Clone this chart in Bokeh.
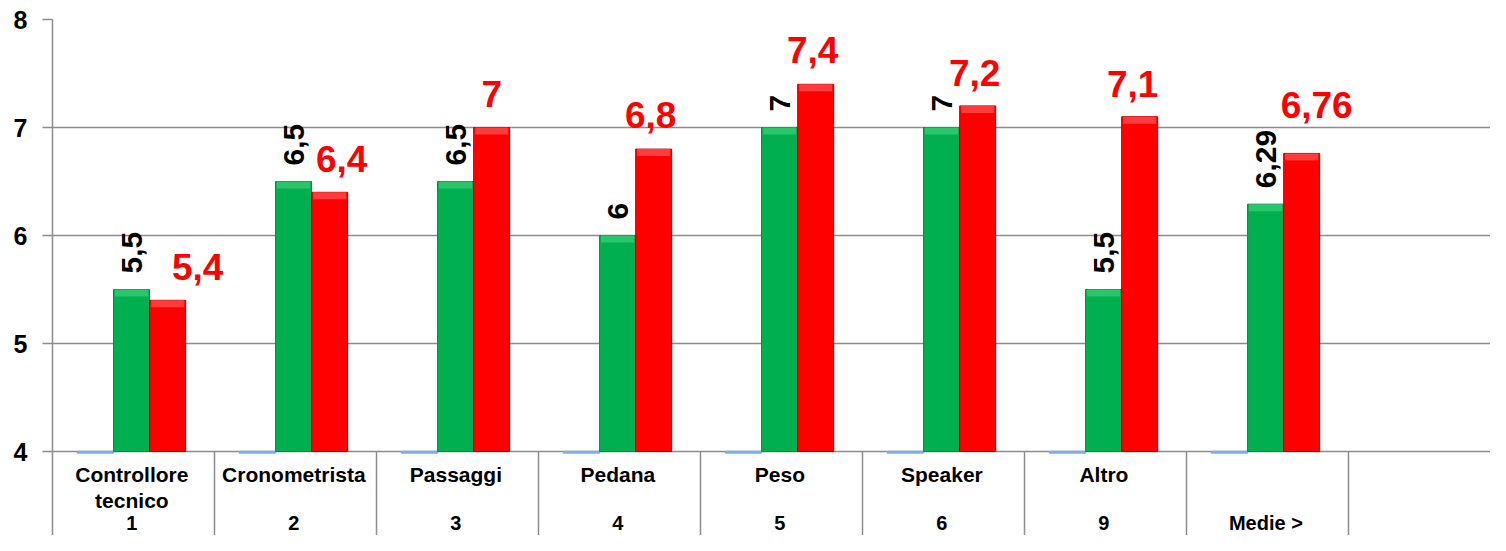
import math
from bokeh.plotting import figure
from bokeh.models import Range1d, FixedTicker, ColumnDataSource
from bokeh.core.properties import value
from bokeh.embed import file_html
from bokeh.resources import INLINE

# ---- data ----
names = ["Controllore\ntecnico", "Cronometrista", "Passaggi", "Pedana",
         "Peso", "Speaker", "Altro", ""]
codes = ["1", "2", "3", "4", "5", "6", "9", "Medie >"]
series_blue = [4, 4, 4, 4, 4, 4, 4, 4]
series_green = [5.5, 6.5, 6.5, 6.0, 7.0, 7.0, 5.5, 6.29]
series_red = [5.4, 6.4, 7.0, 6.8, 7.4, 7.2, 7.1, 6.76]
green_text = ["5,5", "6,5", "6,5", "6", "7", "7", "5,5", "6,29"]
red_text = ["5,4", "6,4", "7", "6,8", "7,4", "7,2", "7,1", "6,76"]
y_ticks = [4, 5, 6, 7, 8]
n_slots = 9  # last slot is empty

# label nudges (pixels) as placed in the original
red_dx = [30, 12, 0, -3, -3, -3, -7, 15]
red_dy = [20, 20, 20, 21, 21, 20, 19, 35]

# ---- layout ----
W, H = 1490, 535
LEFT, TOP = 52, 19
FW, FH = W - LEFT, H - TOP
SLOT_PX = 162.0
UNIT_PX = 108.0
PX_X = 1.0 / SLOT_PX
PX_Y = 1.0 / UNIT_PX
y_lo = 8 - FH / UNIT_PX

FONT = "Liberation Sans"
GRID = "#8c8c8c"

p = figure(width=W, height=H, output_backend="svg", toolbar_location=None,
           x_range=Range1d(0, FW / SLOT_PX), y_range=Range1d(y_lo, 8),
           min_border_left=LEFT, min_border_right=0, min_border_top=TOP,
           min_border_bottom=0)
p.outline_line_color = None
p.background_fill_color = "white"
p.border_fill_color = "white"
p.xaxis.visible = False
p.xgrid.visible = False
p.ygrid.ticker = FixedTicker(ticks=y_ticks)
p.ygrid.grid_line_color = GRID
p.ygrid.grid_line_width = 1.5

ya = p.yaxis[0]
ya.ticker = FixedTicker(ticks=y_ticks)
ya.axis_line_color = GRID
ya.axis_line_width = 1.5
ya.major_tick_line_color = GRID
ya.major_tick_line_width = 1.5
ya.major_tick_in = 0
ya.major_tick_out = 10
ya.minor_tick_line_color = None
ya.major_label_standoff = 15
ya.major_label_text_font = FONT
ya.major_label_text_font_style = "bold"
ya.major_label_text_font_size = "25px"
ya.major_label_text_color = "black"

n = len(names)
BW = 36 * PX_X
xb = [i + 0.265 for i in range(n)]
xg = [i + 0.488 for i in range(n)]
xr = [i + 0.711 for i in range(n)]

RED_FS = 37
src = ColumnDataSource(dict(
    xb=xb, xg=xg, xr=xr, blue=series_blue, green=series_green, red=series_red,
    gtxt=green_text, rtxt=red_text,
    gy=[v + 16 * PX_Y for v in series_green],
    ry=[v + (d + 0.36 * RED_FS) * PX_Y for v, d in zip(series_red, red_dy)],
    rx=[x + d * PX_X for x, d in zip(xr, red_dx)],
    gtop=[v - 7 * PX_Y for v in series_green],
    rtop=[v - 7 * PX_Y for v in series_red],
))

# category separators under the axis
bounds = list(range(1, n_slots + 1))
p.segment(x0=bounds, x1=bounds, y0=[y_lo] * len(bounds), y1=[4] * len(bounds),
          line_color=GRID, line_width=1.5)

# blue series (sits at the axis floor)
p.vbar(x="xb", top="blue", bottom=4 - 1.5 * PX_Y, width=BW, source=src,
       fill_color="#8db4e2", line_color="#7aaef0", line_width=1.5)

# green and red bars
p.vbar(x="xg", top="green", bottom=4, width=BW, source=src,
       fill_color="#00b050", line_color="#078a40", line_width=1)
p.vbar(x="xr", top="red", bottom=4, width=BW, source=src,
       fill_color="#ff0000", line_color="#b80000", line_width=1)
# bevel highlights on the tops
p.vbar(x="xg", top="green", bottom="gtop", width=BW * 0.92, source=src,
       fill_color="#29c66c", line_color=None)
p.vbar(x="xr", top="red", bottom="rtop", width=BW * 0.92, source=src,
       fill_color="#ff3c3c", line_color=None)

# value labels
p.text(x="xg", y="gy", text="gtxt", source=src, angle=math.pi / 2,
       text_align="left", text_baseline="middle", text_color="black",
       text_font=value(FONT), text_font_style="bold", text_font_size="30px")
p.text(x="rx", y="ry", text="rtxt", source=src,
       text_align="center", text_baseline="middle", text_color="#ff0000",
       text_font=value(FONT), text_font_style="bold",
       text_font_size=f"{RED_FS}px")

# category labels (two rows)
xc = [i + 0.49 for i in range(n)]
p.text(x=xc, y=[4 - 11 * PX_Y] * n, text=names,
       text_align="center", text_baseline="top", text_color="black",
       text_font=value(FONT), text_font_style="bold", text_font_size="21px",
       text_line_height=1.15)
p.text(x=xc, y=[4 - 71 * PX_Y] * n, text=codes,
       text_align="center", text_baseline="middle", text_color="black",
       text_font=value(FONT), text_font_style="bold", text_font_size="20px")

open("out.html", "w").write(file_html(p, INLINE))
